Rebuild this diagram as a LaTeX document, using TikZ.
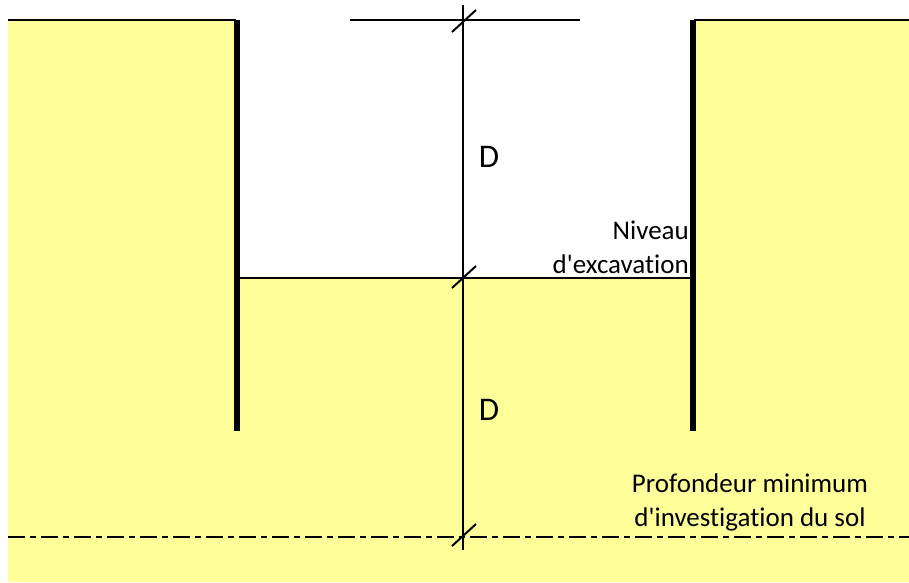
\documentclass[tikz,border=0pt]{standalone}
\usepackage{fontspec}
\setmainfont[Ligatures={NoCommon}]{Carlito}
\definecolor{soil}{HTML}{FFFF99}
\tikzset{
  thin line/.style={line width=2pt, black},
  wall/.style={line width=6pt, black},
  tickmark/.style={line width=2pt, black},
  dimlabel/.style={font=\fontsize{33}{34}\selectfont, inner sep=0pt},
  lbl/.style={font=\fontsize{27}{34}\selectfont, inner sep=0pt, align=right},
  dashdot line/.style={line width=2.5pt, black, dash pattern=on 17pt off 5pt on 6pt off 5pt}
}
\begin{document}
\begin{tikzpicture}[x=1pt,y=-1pt]
\useasboundingbox (0,0) rectangle (909,582);
% soil
\fill[soil] (8,20) -- (237,20) -- (237,278) -- (693,278) -- (693,20) -- (909,20) -- (909,582) -- (8,582) -- cycle;
% ground surfaces
\draw[thin line] (8,20) -- (236,20);
\draw[thin line] (694,20) -- (909,20);
\draw[thin line] (350,20) -- (580,20);
% excavation level
\coordinate (exL) at (237,278);
\coordinate (exR) at (693,278);
\draw[thin line] (exL) -- (exR);
% walls
\coordinate (lwT) at (237,20);
\coordinate (lwB) at (237,431);
\coordinate (rwT) at (693,20);
\coordinate (rwB) at (693,431);
\draw[wall] (lwT) -- (lwB);
\draw[wall] (rwT) -- (rwB);
% minimum investigation depth
\coordinate (dL) at (8,537);
\coordinate (dR) at (909,537);
\draw[dashdot line] (dL) -- (dR);
% dimension line
\coordinate (dimT) at (463,5);
\coordinate (dimB) at (463,550);
\draw[thin line] (dimT) -- (dimB);
\foreach \yy/\nm in {21/t1, 277/t2, 535/t3} {
  \coordinate (\nm) at (464,\yy);
  \draw[tickmark] ([shift={(-12,11)}]\nm) -- ([shift={(12,-11)}]\nm);
}
% labels
\node[dimlabel] (D1) at (489,157) {D};
\node[dimlabel] (D2) at (489,410) {D};
\node[lbl, anchor=south east] (niv) at (689,274) {Niveau\\d\textquotesingle excavation};
\node[lbl, anchor=south, align=center] (prof) at (750,531) {Profondeur minimum\\d\textquotesingle investigation du sol};
\end{tikzpicture}
\end{document}
